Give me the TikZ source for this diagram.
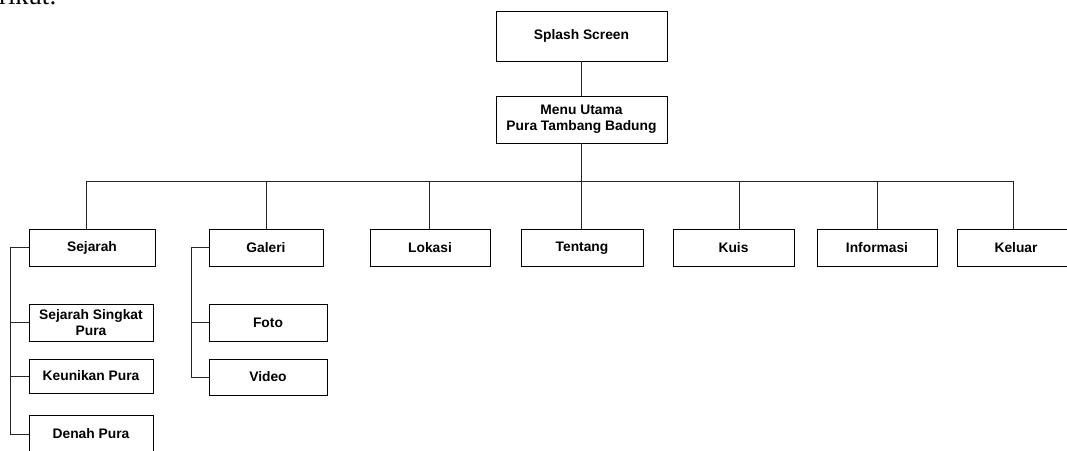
\documentclass[tikz,border=0pt]{standalone}
\usepackage{fontspec}
\setmainfont{Liberation Serif}
\newfontfamily\boxfont{Liberation Sans}
\begin{document}
\begin{tikzpicture}[x=1pt,y=-1pt,
  box/.style={draw=black,line width=0.8pt,fill=white,inner sep=0pt,align=center,
    font=\boxfont\bfseries\fontsize{13.8}{16}\selectfont},
  conn/.style={draw=black!85,line width=0.8pt}]
\useasboundingbox (0,0) rectangle (1067,450);
% cut-off sentence at top
\node[anchor=base west,inner sep=0pt,font=\fontsize{26.5}{30}\selectfont] (intro) at (-26,4.5) {berikut:};
% boxes
\node[box,minimum width=171pt,minimum height=50pt] (splash) at (581.5,36) {Splash Screen};
\node[box,minimum width=171pt,minimum height=47pt] (menu) at (581.5,119.5) {Menu Utama\\Pura Tambang Badung};
\node[box,minimum width=126pt,minimum height=37pt] (sejarah) at (92,247.5) {Sejarah};
\node[box,minimum width=114pt,minimum height=37pt] (galeri) at (266,247.5) {Galeri};
\node[box,minimum width=120pt,minimum height=37pt] (lokasi) at (430,248) {Lokasi};
\node[box,minimum width=122pt,minimum height=37pt] (tentang) at (582,248) {Tentang};
\node[box,minimum width=121pt,minimum height=37pt] (kuis) at (733.5,248) {Kuis};
\node[box,minimum width=120pt,minimum height=37pt] (informasi) at (877,248) {Informasi};
\node[box,minimum width=118pt,minimum height=37pt] (keluar) at (1016,248) {Keluar};
\node[box,minimum width=124pt,minimum height=37pt] (singkat) at (91,322.5) {Sejarah Singkat\\Pura};
\node[box,minimum width=124pt,minimum height=34pt] (keunikan) at (91,376) {Keunikan Pura};
\node[box,minimum width=124pt,minimum height=37pt] (denah) at (91,434) {Denah Pura};
\node[box,minimum width=118pt,minimum height=37pt] (foto) at (268,322.5) {Foto};
\node[box,minimum width=118pt,minimum height=36pt] (video) at (268,377) {Video};
% bus coordinates
\coordinate (busL) at (86,181);
\coordinate (busR) at (1013,181);
\coordinate (dLok) at (429,181);
\coordinate (dTen) at (581,181);
\coordinate (dKuis) at (739,181);
\coordinate (dInf) at (877,181);
\coordinate (dGal) at (266,181);
\coordinate (sx) at (10,0);
\coordinate (gx) at (191,0);
% connectors
\draw[conn] (splash.south) -- (menu.north);
\draw[conn] (menu.south) -- (menu.south |- busL);
\draw[conn] (busL) -- (busR);
\draw[conn] (busL) -- (busL |- sejarah.north);
\draw[conn] (dGal) -- (dGal |- galeri.north);
\draw[conn] (dLok) -- (dLok |- lokasi.north);
\draw[conn] (dTen) -- (dTen |- tentang.north);
\draw[conn] (dKuis) -- (dKuis |- kuis.north);
\draw[conn] (dInf) -- (dInf |- informasi.north);
\draw[conn] (busR) -- (busR |- keluar.north);
\draw[conn] (sejarah.west) -- (sejarah.west -| sx) |- (denah.west);
\draw[conn] (sx |- singkat.west) -- (singkat.west);
\draw[conn] (sx |- keunikan.west) -- (keunikan.west);
\draw[conn] (galeri.west) -- (galeri.west -| gx) |- (video.west);
\draw[conn] (gx |- foto.west) -- (foto.west);
\end{tikzpicture}
\end{document}
